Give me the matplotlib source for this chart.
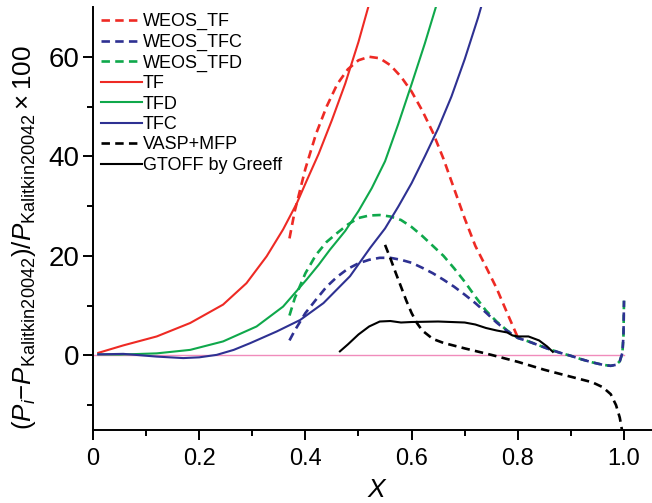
import matplotlib
matplotlib.use("Agg")
import matplotlib.pyplot as plt
from matplotlib.ticker import FixedLocator

plt.rcParams['font.family'] = ['Liberation Sans', 'DejaVu Sans']
plt.rcParams['mathtext.fontset'] = 'custom'
plt.rcParams['mathtext.rm'] = 'Liberation Sans'
plt.rcParams['mathtext.it'] = 'Liberation Sans:italic'

RED = '#ee2a24'
GREEN = '#0fa84b'
BLUE = '#2e3192'

# ---- data ----
tf_x = [0.01, 0.057, 0.12, 0.183, 0.245, 0.289, 0.327, 0.358, 0.384, 0.402, 0.425,
        0.45, 0.475, 0.50, 0.525]
tf_y = [0.5, 2.0, 3.8, 6.5, 10.2, 14.5, 19.9, 25.3, 30.6, 35.0, 40.5,
        47.3, 54.6, 63.0, 72.5]

tfd_x = [0.01, 0.05, 0.12, 0.183, 0.245, 0.308, 0.358, 0.402, 0.425, 0.446,
         0.475, 0.50, 0.525, 0.55, 0.575, 0.60, 0.625, 0.65]
tfd_y = [0.2, 0.15, 0.4, 1.1, 2.8, 5.8, 9.8, 15.2, 18.2, 21.2,
         25.0, 29.0, 33.6, 39.0, 46.5, 54.5, 62.7, 71.5]

tfc_x = [0.01, 0.057, 0.12, 0.17, 0.20, 0.233, 0.265, 0.296, 0.346, 0.39, 0.434,
         0.484, 0.522, 0.55, 0.575, 0.60, 0.625, 0.65, 0.675, 0.70, 0.725, 0.735]
tfc_y = [0.2, 0.3, -0.25, -0.55, -0.4, 0.1, 1.1, 2.45, 4.8, 7.1, 10.5,
         15.9, 21.6, 25.5, 29.9, 34.6, 40.0, 45.6, 52.0, 59.5, 67.8, 71.5]

weos_tf_x = [0.37, 0.38, 0.40, 0.42, 0.44, 0.46, 0.48, 0.50, 0.52, 0.54, 0.56, 0.58,
             0.60, 0.62, 0.64, 0.66, 0.68, 0.70, 0.72, 0.74, 0.76, 0.78, 0.80]
weos_tf_y = [23.5, 29.0, 37.5, 44.5, 50.0, 54.5, 57.5, 59.3, 60.0, 59.7, 58.3, 56.0,
             53.0, 49.2, 44.8, 39.5, 33.5, 27.5, 22.0, 17.8, 13.5, 8.5, 3.6]

tail_x = [0.82, 0.84, 0.86, 0.88, 0.90, 0.92, 0.94, 0.96, 0.975, 0.985, 0.992, 0.997, 0.999, 1.0]
tail_y = [2.8, 2.0, 1.2, 0.5, -0.1, -0.8, -1.4, -1.9, -2.1, -1.9, -1.2, 0.5, 4.0, 11.0]

weos_tfc_x = [0.37, 0.38, 0.40, 0.42, 0.44, 0.46, 0.48, 0.50, 0.52, 0.54, 0.56, 0.58,
              0.60, 0.62, 0.64, 0.66, 0.68, 0.70, 0.72, 0.74, 0.76, 0.78, 0.80] + tail_x
weos_tfc_y = [3.0, 5.0, 8.5, 11.2, 13.8, 15.8, 17.4, 18.5, 19.2, 19.6, 19.6, 19.2,
              18.6, 17.6, 16.5, 15.2, 13.8, 12.2, 10.5, 8.6, 6.6, 4.9, 3.5] + tail_y

weos_tfd_x = [0.37, 0.38, 0.40, 0.42, 0.44, 0.46, 0.48, 0.50, 0.52, 0.54, 0.56, 0.58,
              0.60, 0.62, 0.64, 0.66, 0.68, 0.70, 0.72, 0.74, 0.76, 0.78, 0.80] + tail_x
weos_tfd_y = [8.0, 11.5, 16.5, 20.2, 22.8, 24.6, 26.3, 27.6, 28.1, 28.2, 27.9, 27.2,
              25.8, 24.0, 22.0, 20.0, 17.5, 14.8, 11.8, 9.0, 6.8, 5.0, 3.5] + tail_y

vasp_x = [0.55, 0.56, 0.57, 0.58, 0.59, 0.60, 0.61, 0.62, 0.64, 0.66, 0.70, 0.75,
          0.80, 0.85, 0.90, 0.94, 0.96, 0.975, 0.985, 0.992, 0.997]
vasp_y = [22.2, 19.5, 16.6, 13.8, 11.0, 8.5, 6.5, 5.0, 3.3, 2.5, 1.4, 0.1,
          -1.3, -2.9, -4.3, -5.4, -6.4, -7.8, -10.0, -12.5, -15.5]

gtoff_x = [0.465, 0.48, 0.50, 0.52, 0.54, 0.56, 0.58, 0.60, 0.65, 0.70, 0.72, 0.74,
           0.76, 0.78, 0.79, 0.80, 0.82, 0.84, 0.855, 0.866]
gtoff_y = [0.8, 2.2, 4.2, 5.8, 6.8, 6.9, 6.6, 6.7, 6.8, 6.6, 6.2, 5.5,
           5.0, 4.6, 4.0, 3.8, 3.8, 3.0, 1.8, 0.7]

xticks = [0, 0.2, 0.4, 0.6, 0.8, 1.0]
xticklabels = ['0', '0.2', '0.4', '0.6', '0.8', '1.0']
yticks = [0, 20, 40, 60]
yticklabels = ['0', '20', '40', '60']

# ---- figure ----
W, H = 652, 503
fig = plt.figure(figsize=(W / 100, H / 100), dpi=100)
ax = fig.add_axes([93 / W, (H - 430) / H, 1 - 93 / W, (430 - 7) / H])

ax.plot([0, 1.0], [0, 0], color='#f08cbc', lw=1.0, zorder=1)

dash = (3.2, 2.0)
lwd = 1.9
lws = 1.5
l1, = ax.plot(weos_tf_x, weos_tf_y, color=RED, lw=lwd, dashes=dash, label='WEOS_TF')
l3, = ax.plot(weos_tfd_x, weos_tfd_y, color=GREEN, lw=lwd, dashes=dash, label='WEOS_TFD')
l2, = ax.plot(weos_tfc_x, weos_tfc_y, color=BLUE, lw=lwd, dashes=dash, label='WEOS_TFC')
l4, = ax.plot(tf_x, tf_y, color=RED, lw=lws, label='TF')
l5, = ax.plot(tfd_x, tfd_y, color=GREEN, lw=lws, label='TFD')
l6, = ax.plot(tfc_x, tfc_y, color=BLUE, lw=lws, label='TFC')
l7, = ax.plot(vasp_x, vasp_y, color='black', lw=lwd, dashes=dash, label='VASP+MFP')
l8, = ax.plot(gtoff_x, gtoff_y, color='black', lw=lws, label='GTOFF by Greeff')

ax.set_xlim(0, (W - 93) / 531)
ax.set_ylim(-15, 70)

for s in ['top', 'right']:
    ax.spines[s].set_visible(False)
for s in ['left', 'bottom']:
    ax.spines[s].set_linewidth(1.4)

ax.xaxis.set_major_locator(FixedLocator(xticks))
ax.set_xticklabels(xticklabels)
ax.xaxis.set_minor_locator(FixedLocator([0.1, 0.3, 0.5, 0.7, 0.9]))
ax.yaxis.set_major_locator(FixedLocator(yticks))
ax.set_yticklabels(yticklabels)
ax.yaxis.set_minor_locator(FixedLocator([-10, 10, 30, 50]))

ax.tick_params(axis='both', which='major', direction='out', length=7, width=1.4)
ax.tick_params(axis='both', which='minor', direction='out', length=4, width=1.4)
ax.tick_params(axis='x', labelsize=17, pad=6)
ax.tick_params(axis='y', labelsize=20, pad=3)

fig.text(377 / W, 1 - 490 / H, r'$\mathit{X}$', fontsize=19, ha='center', va='center')
ylab = fig.text(24 / W, 1 - 238 / H,
                r'$(\mathit{P}_{\mathit{i}}{-}\mathit{P}_{\mathrm{Kalitkin20042}})/\mathit{P}_{\mathrm{Kalitkin20042}}\times 100$',
                fontsize=17, rotation=90, ha='center', va='center')
# fit label to the span it occupies in the reference (about 385 px)
renderer = fig.canvas.get_renderer()
ext = ylab.get_window_extent(renderer=renderer)
ylab.set_fontsize(17 * 385.0 / ext.height)

leg = ax.legend(handles=[l1, l2, l3, l4, l5, l6, l7, l8], loc='upper left',
                bbox_to_anchor=(-0.008, 1.015), frameon=False, fontsize=13,
                handlelength=2.25, handletextpad=0.05, labelspacing=0.19,
                borderaxespad=0.3)

fig.savefig('out.png', dpi=100)
